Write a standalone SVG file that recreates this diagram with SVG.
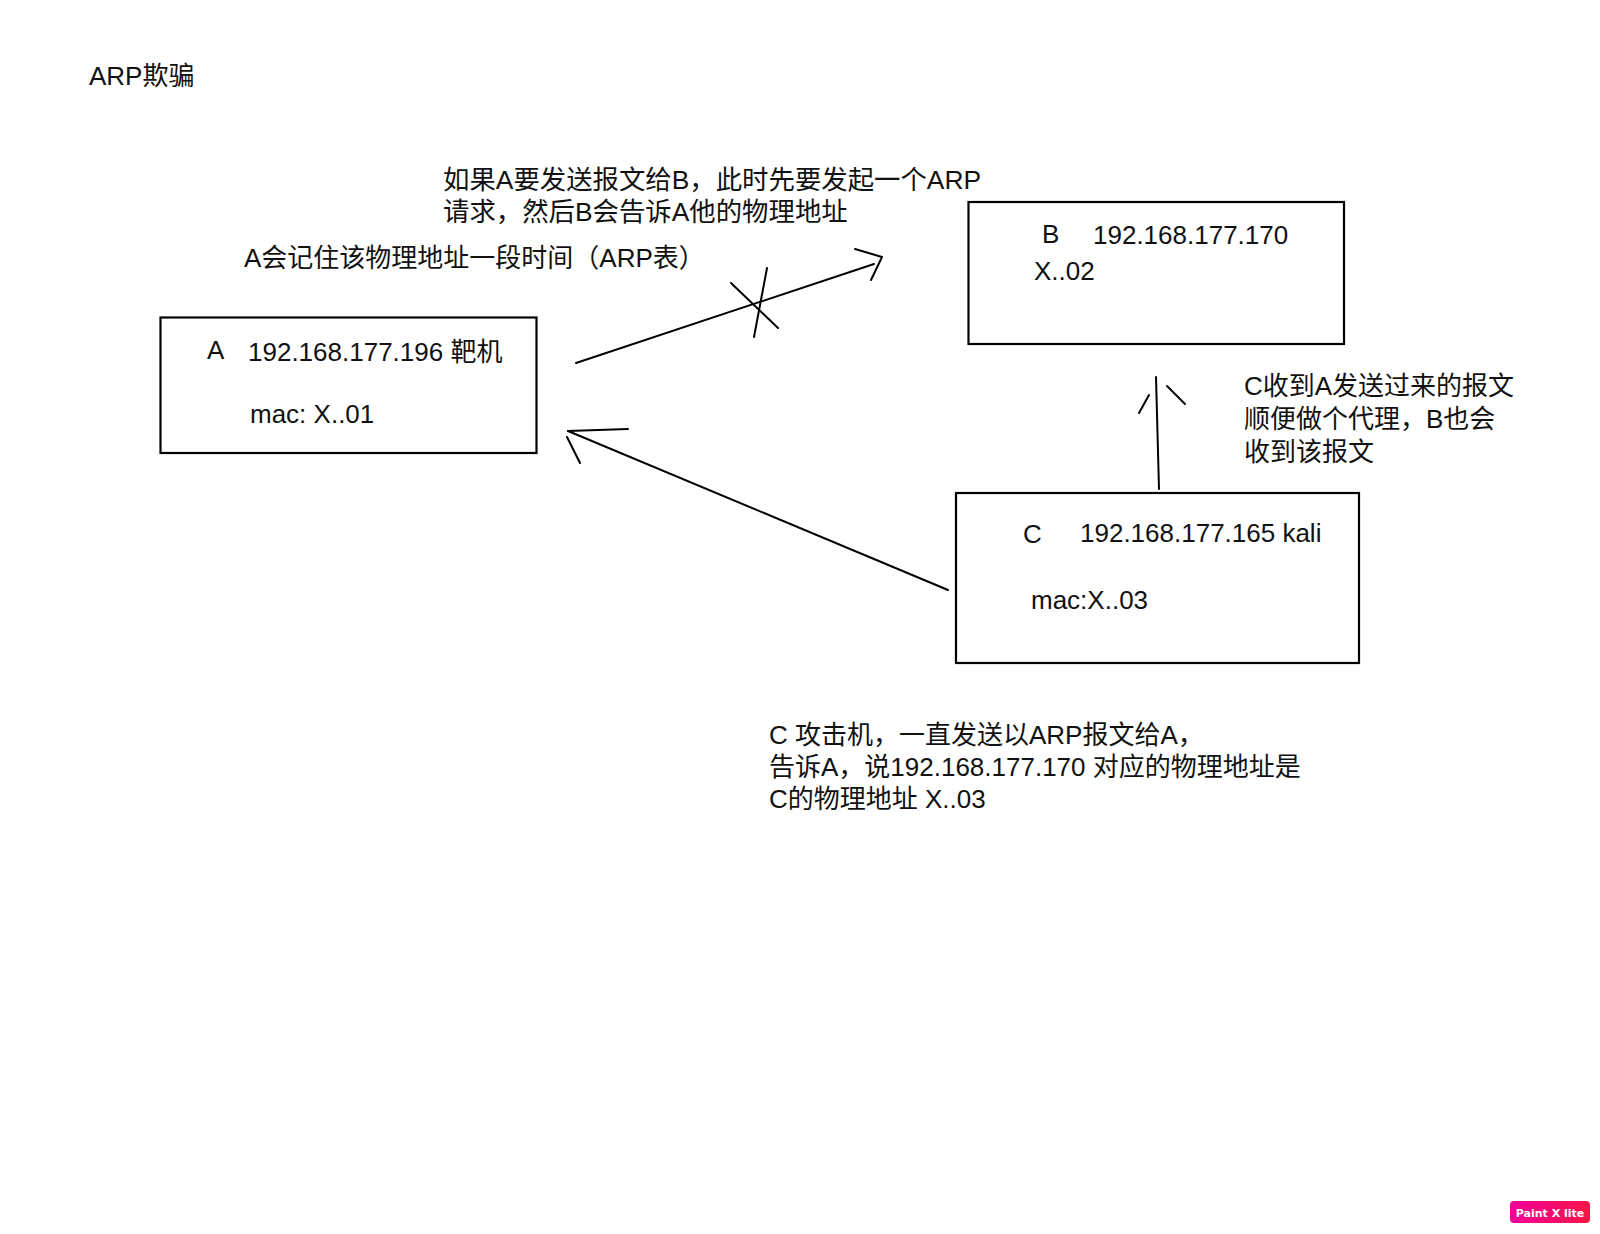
<svg xmlns="http://www.w3.org/2000/svg" width="1600" height="1234" viewBox="0 0 1600 1234">
<defs>
<style>
.t{font-family:"Liberation Sans","Noto Sans CJK SC",sans-serif;font-size:26px;fill:#111;}
.box{fill:#fff;stroke:#000;stroke-width:2.2;}
.ln{fill:none;stroke:#000;stroke-width:2;stroke-linecap:round;stroke-linejoin:round;}
</style>
<linearGradient id="pg" x1="0" y1="0" x2="1" y2="0">
<stop offset="0" stop-color="#f1009b"/>
<stop offset="1" stop-color="#fb1446"/>
</linearGradient>
</defs>
<rect width="1600" height="1234" fill="#fff"/>

<text class="t" x="89" y="85">ARP欺骗</text>

<g id="label-request">
<text class="t" x="443" y="189" style="font-size:26.4px">如果A要发送报文给B，此时先要发起一个ARP</text>
<text class="t" x="443" y="221" style="font-size:26.4px">请求，然后B会告诉A他的物理地址</text>
</g>
<g id="label-arp-table">
<text class="t" x="244" y="267">A会记住该物理地址一段时间（ARP表）</text>
</g>

<g id="node-A">
<rect class="box" x="160.5" y="317.5" width="376" height="135.5"/>
<text class="t" x="207" y="359">A</text>
<text class="t" x="248" y="361">192.168.177.196 靶机</text>
<text class="t" x="250" y="423">mac: X..01</text>
</g>

<g id="node-B">
<rect class="box" x="968.5" y="202" width="375.5" height="142"/>
<text class="t" x="1042" y="243">B</text>
<text class="t" x="1093" y="244">192.168.177.170</text>
<text class="t" x="1034" y="280">X..02</text>
</g>

<g id="node-C">
<rect class="box" x="956" y="493" width="403" height="170"/>
<text class="t" x="1023" y="543">C</text>
<text class="t" x="1080" y="542">192.168.177.165 kali</text>
<text class="t" x="1031" y="609">mac:X..03</text>
</g>

<g id="label-proxy">
<text class="t" x="1244" y="395">C收到A发送过来的报文</text>
<text class="t" x="1244" y="428">顺便做个代理，B也会</text>
<text class="t" x="1244" y="461">收到该报文</text>
</g>

<g id="label-attack">
<text class="t" x="769" y="744">C 攻击机，一直发送以ARP报文给A，</text>
<text class="t" x="769" y="776">告诉A，说192.168.177.170 对应的物理地址是</text>
<text class="t" x="769" y="808">C的物理地址 X..03</text>
</g>

<g id="connectors">
<!-- A to B (crossed out) -->
<path class="ln" d="M576,363 L874,264"/>
<path class="ln" d="M855,249 L882,257 L871,280"/>
<path class="ln" d="M731,283 L778,328"/>
<path class="ln" d="M767,268 L754,337"/>
<!-- C to A -->
<path class="ln" d="M948,590 L568,431"/>
<path class="ln" d="M628,429 L568,431"/>
<path class="ln" d="M567,437 L580,463"/>
<!-- C to B -->
<path class="ln" d="M1159,489 L1156,377"/>
<path class="ln" d="M1149,395 L1139,413"/>
<path class="ln" d="M1167,386 L1185,404"/>
</g>

<g id="badge">
<rect x="1510" y="1201" width="80" height="22" rx="4" fill="url(#pg)"/>
<text x="1550" y="1217" text-anchor="middle" font-family="'DejaVu Sans',sans-serif" font-weight="bold" font-size="11" fill="#fff">Paint X lite</text>
</g>
</svg>
